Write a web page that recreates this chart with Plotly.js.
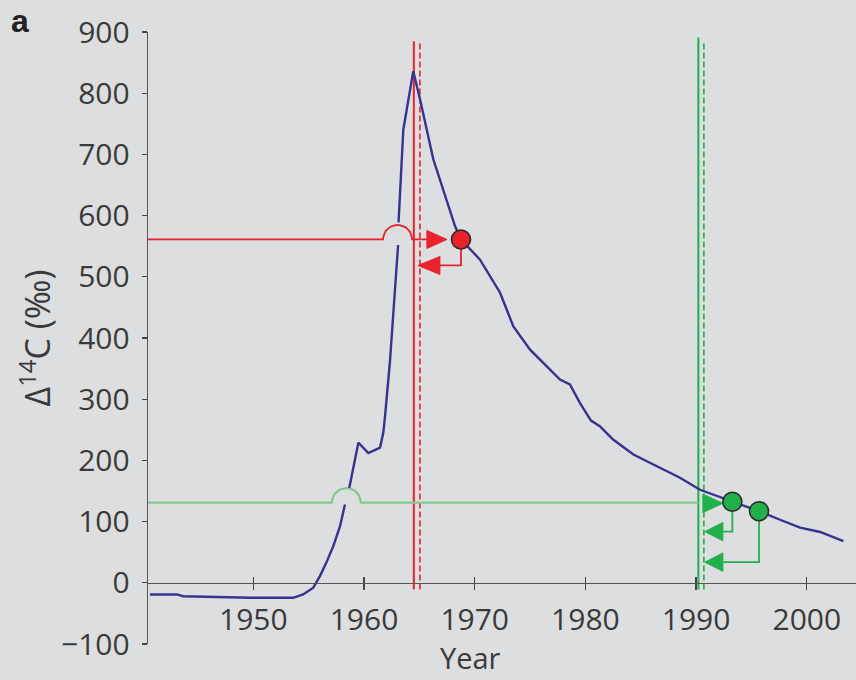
<!DOCTYPE html>
<html><head><meta charset="utf-8">
<script src="https://cdn.plot.ly/plotly-3.0.1.min.js"></script>
<style>html,body{margin:0;padding:0;background:#dddee0;} #chart{width:856px;height:680px;}</style>
</head><body><div id="chart"></div>
<script>
// ---- data ----
const curveYears = [1940.67, 1943.1, 1943.67, 1949.7, 1953.6, 1954.5, 1955.42, 1956.02, 1956.6, 1957.23, 1957.83, 1958.28, null,
  1958.67, 1959.03, 1959.49, 1960.39, 1961.45, 1961.74, 1961.9, 1962.35, 1962.8, 1963.08, null,
  1963.12, 1963.55, 1964.45, 1965.06, 1966.26, 1967.47, 1968.22, 1968.76, 1969.58, 1970.48, 1972.29, 1973.49,
  1975.0, 1976.2, 1977.7, 1978.6, 1979.5, 1980.5, 1981.3, 1982.5, 1984.3, 1985.5, 1987.3, 1988.5, 1990.35,
  1991.55, 1993.27, 1994.57, 1995.68, 1997.58, 1999.39, 2001.2, 2003.3];
const curveValues = [-19, -19, -22, -24.5, -24.5, -19, -8, 11, 33, 60, 92, 128, null,
  155, 190, 229, 212, 221, 245, 272, 363, 479, 552, null,
  589, 740, 836, 790, 692, 626, 583, 561, 545, 528, 474, 419,
  381, 359, 332, 324, 294, 265, 256, 234, 210, 199, 182, 172, 152,
  144, 132.4, 125, 117, 103, 90, 83, 68];

const redDotYears = [1968.76];
const redDotValues = [561];
const greenDotYears = [1993.27, 1995.68];
const greenDotValues = [132.4, 117];

const redLineYears = [1964.5, 1965.05];     // solid, dashed
const greenLineYears = [1990.2, 1990.7];    // solid, dashed
const redLineTop = [885, 885];
const greenLineTop = [891, 885];
const lineBottom = -11;

const redLevel = 561;
const greenLevel = 131;
const redCrossYear = 1963.03;
const greenCrossYear = 1958.4;

const xTickVals = [1950, 1960, 1970, 1980, 1990, 2000];
const xTickText = ['1950', '1960', '1970', '1980', '1990', '2000'];
const yTickVals = [-100, 0, 100, 200, 300, 400, 500, 600, 700, 800, 900];
const yTickText = ['\u2212100', '0', '100', '200', '300', '400', '500', '600', '700', '800', '900'];

// ---- geometry helpers (pixel offsets -> data units) ----
const W = 856, H = 680, ML = 148, MR = 0, MT = 32, MB = 36;
const xRange = [1940.49, 2004.44], yRange = [-100, 900];
const pxX = (W - ML - MR) / (xRange[1] - xRange[0]);
const pxY = (H - MT - MB) / (yRange[1] - yRange[0]);
const dxp = p => p / pxX, dyp = p => p / pxY;

const RED = '#e8232b', GREEN = '#22b04b', GREEN_LIGHT = '#80cc8e', BLUE = '#34348f', BG = '#dddee0';

function humpLine(level, x0, cx, x1, r) {
  const xs = [x0], ys = [level];
  const N = 24;
  for (let i = 0; i <= N; i++) {
    const t = Math.PI - Math.PI * i / N;
    xs.push(cx + dxp(r * Math.cos(t)));
    ys.push(level + dyp(r * Math.sin(t)));
  }
  xs.push(x1); ys.push(level);
  return {xs, ys};
}
function tri(base, tip, cy, half) {
  return {xs: [base, tip, base, base], ys: [cy + dyp(half), cy, cy - dyp(half), cy + dyp(half)]};
}
const traces = [];
function lineTrace(xs, ys, color, width, dash) {
  traces.push({x: xs, y: ys, mode: 'lines', line: {color, width, dash: dash || 'solid'},
    hoverinfo: 'skip', showlegend: false, connectgaps: false, cliponaxis: false});
}
function triTrace(t, color) {
  traces.push({x: t.xs, y: t.ys, mode: 'lines', fill: 'toself', fillcolor: color,
    line: {color, width: 1}, hoverinfo: 'skip', showlegend: false});
}

// vertical lines
lineTrace([redLineYears[0], redLineYears[0]], [lineBottom, redLineTop[0]], RED, 2);
lineTrace([redLineYears[1], redLineYears[1]], [lineBottom, redLineTop[1]], RED, 1.6, '6px,3px');
lineTrace([greenLineYears[0], greenLineYears[0]], [lineBottom, greenLineTop[0]], GREEN, 2);
lineTrace([greenLineYears[1], greenLineYears[1]], [lineBottom, greenLineTop[1]], GREEN, 1.6, '6px,3px');

// red horizontal with hop-over
const redArrowBase = redLineYears[1] + dxp(7);
const redArrowTip = redDotYears[0] - dxp(14);
let h = humpLine(redLevel, xRange[0], redCrossYear, redArrowBase, 14.5);
lineTrace(h.xs, h.ys, RED, 1.8);
// green horizontal with hop-over
h = humpLine(greenLevel, xRange[0], greenCrossYear, greenLineYears[0], 14.5);
lineTrace(h.xs, h.ys, GREEN_LIGHT, 2.2);

// curve
traces.push({x: curveYears, y: curveValues, mode: 'lines', line: {color: BLUE, width: 2.4},
  connectgaps: false, showlegend: false, hoverinfo: 'x+y'});

// red arrows
triTrace(tri(redArrowBase, redArrowTip, redLevel, 9), RED);
const red2y = redLevel - dyp(26);
const red2Base = redLineYears[1] + dxp(20);
lineTrace([redDotYears[0], redDotYears[0], red2Base], [redDotValues[0], red2y, red2y], RED, 1.8);
triTrace(tri(red2Base, redLineYears[1] - dxp(2), red2y, 9), RED);

// green arrows
const gBase = greenLineYears[1] + dxp(19);
const gTip = greenLineYears[1] + dxp(1);
triTrace(tri(greenLineYears[1] - dxp(1), gBase, greenLevel - dyp(0.7), 9.2), GREEN);
const gOffsets = [29, 59.5];
greenDotYears.forEach((yr, i) => {
  const cy = greenLevel - dyp(gOffsets[i]);
  lineTrace([yr, yr, gBase], [greenDotValues[i], cy, cy], GREEN, 1.8);
  triTrace(tri(gBase, gTip, cy, 9.2), GREEN);
});

// dots
traces.push({x: redDotYears, y: redDotValues, mode: 'markers', showlegend: false,
  marker: {size: 19, color: RED, line: {color: '#2a2a2a', width: 1.6}}});
traces.push({x: greenDotYears, y: greenDotValues, mode: 'markers', showlegend: false,
  marker: {size: 19, color: GREEN, line: {color: '#2a2a2a', width: 1.6}}});

// invisible trace so the overlay tick axis is drawn
traces.push({x: [2000], y: [null], xaxis: 'x2', mode: 'markers', showlegend: false, hoverinfo: 'skip'});

const FONT = '"Open Sans", "Noto Sans", sans-serif';
const TXT = '#3a3a3a';
const zeroPos = (0 - yRange[0]) / (yRange[1] - yRange[0]);

const layout = {
  width: W, height: H,
  margin: {l: ML, r: MR, t: MT, b: MB, pad: 0},
  paper_bgcolor: BG, plot_bgcolor: BG,
  font: {family: FONT, color: TXT},
  showlegend: false,
  xaxis: {
    range: xRange, anchor: 'free', position: zeroPos,
    showline: true, linecolor: '#555', linewidth: 1.3,
    ticks: 'outside', ticklen: 6, tickwidth: 1.3, tickcolor: '#444',
    tickvals: xTickVals, ticktext: xTickText,
    tickfont: {size: 30, color: TXT, family: FONT},
    ticklabelstandoff: 4,
    showgrid: false, zeroline: false, automargin: false
  },
  xaxis2: {
    range: xRange, overlaying: 'x', anchor: 'free', position: zeroPos,
    ticks: 'inside', ticklen: 6, tickwidth: 1.3, tickcolor: '#444',
    tickvals: xTickVals, showticklabels: false, showline: false,
    showgrid: false, zeroline: false
  },
  yaxis: {
    range: yRange, showline: true, linecolor: '#555', linewidth: 1.3,
    ticks: 'outside', ticklen: 5, tickwidth: 1.3, tickcolor: '#444',
    tickvals: yTickVals, ticktext: yTickText,
    tickfont: {size: 30, color: TXT, family: FONT},
    ticklabelstandoff: 6,
    showgrid: false, zeroline: false, automargin: false,
    title: {text: '\u0394<sup>14</sup>C (\u2030)', font: {size: 34, color: TXT, family: FONT}, standoff: 0}
  },
  annotations: [
    {text: 'Year', xref: 'paper', yref: 'paper', x: (470 - ML) / (W - ML - MR), y: -(657 - (H - MB)) / (H - MT - MB),
      xanchor: 'center', yanchor: 'middle', showarrow: false, font: {size: 29, color: TXT, family: FONT}},
    {text: '<b>a</b>', xref: 'paper', yref: 'paper', x: (20 - ML) / (W - ML - MR), y: 1 + (MT - 21) / (H - MT - MB),
      xanchor: 'center', yanchor: 'middle', showarrow: false, font: {size: 32, color: '#222', family: 'Liberation Sans, Arial, sans-serif'}}
  ]
};
Plotly.newPlot('chart', traces, layout, {displayModeBar: false, staticPlot: true});
</script>
</body></html>
